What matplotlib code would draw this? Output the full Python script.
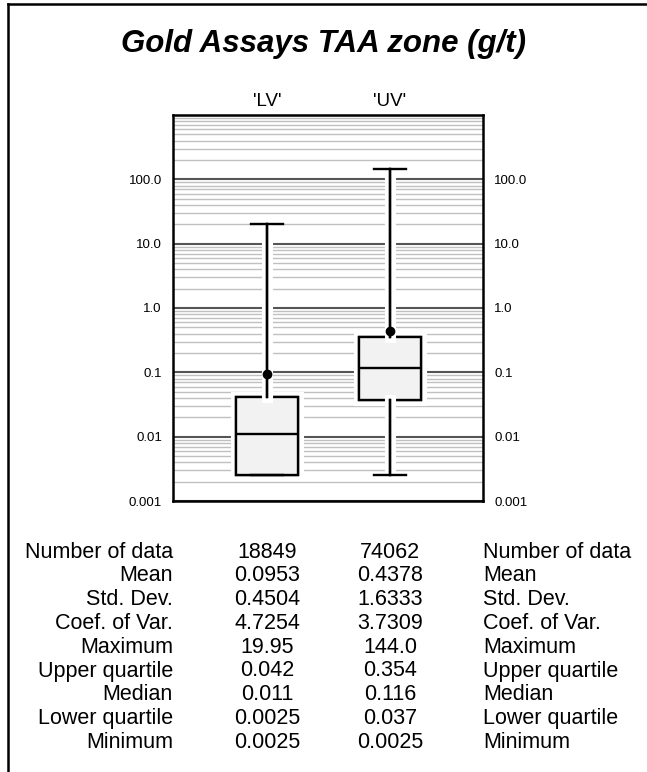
import matplotlib
matplotlib.use("Agg")
import matplotlib.pyplot as plt
import matplotlib.patheffects as pe
from matplotlib.lines import Line2D
from matplotlib.ticker import FixedLocator, NullFormatter
import matplotlib.transforms as mtransforms

plt.rcParams['font.family'] = ['Liberation Sans', 'DejaVu Sans']

# --- data ---
groups = ["'LV'", "'UV'"]
n_data = [18849, 74062]
mean = [0.0953, 0.4378]
std_dev = [0.4504, 1.6333]
coef_var = [4.7254, 3.7309]
maximum = [19.95, 144.0]
upper_q = [0.042, 0.354]
median = [0.011, 0.116]
lower_q = [0.0025, 0.037]
minimum = [0.0025, 0.0025]

row_labels = ["Number of data", "Mean", "Std. Dev.", "Coef. of Var.", "Maximum",
              "Upper quartile", "Median", "Lower quartile", "Minimum"]
y_ticks = [0.001, 0.01, 0.1, 1.0, 10.0, 100.0]
y_ticklabels = ["0.001", "0.01", "0.1", "1.0", "10.0", "100.0"]

W, H = 647, 772
fig = plt.figure(figsize=(W / 100, H / 100), dpi=100)
ax = fig.add_axes([173 / W, 1 - 501 / H, 310 / W, 386 / H])

stats = []
for i, g in enumerate(groups):
    stats.append(dict(label=g, med=median[i], q1=lower_q[i], q3=upper_q[i],
                      whislo=minimum[i], whishi=maximum[i], mean=mean[i], fliers=[]))

halo = [pe.withStroke(linewidth=8, foreground='white')]
bp = ax.bxp(stats, positions=[1, 2], widths=0.5, capwidths=0.26,
            showmeans=True, patch_artist=True, zorder=3,
            boxprops=dict(facecolor='#f2f2f2', edgecolor='black', linewidth=1.7),
            medianprops=dict(color='black', linewidth=1.7),
            whiskerprops=dict(color='black', linewidth=1.7),
            capprops=dict(color='black', linewidth=1.7),
            meanprops=dict(marker='o', markerfacecolor='black',
                           markeredgecolor='black', markersize=6))
for art in bp['boxes'] + bp['whiskers']:
    art.set_path_effects(halo + [pe.Normal()])

ax.set_yscale('log')
ax.set_ylim(0.001, 1000)
ax.set_xlim(0.236, 2.756)
ax.set_xticks([])

ax.set_yticks(y_ticks)
ax.set_yticklabels(y_ticklabels)
minors = [m * 10.0 ** e for e in range(-3, 3) for m in range(2, 10)]
ax.yaxis.set_minor_locator(FixedLocator(minors))
ax.yaxis.set_minor_formatter(NullFormatter())
ax.tick_params(axis='y', which='both', length=0, labelsize=9.5,
               left=False, right=False, labelleft=True, labelright=True)
ax.tick_params(axis='y', which='major', pad=8)
ax.set_axisbelow(True)
ax.grid(True, which='major', axis='y', color='#555555', linewidth=1.5)
ax.grid(True, which='minor', axis='y', color='#c0c0c0', linewidth=1.0)
ax.axhline(1000, color='#555555', linewidth=1.5, zorder=0.5)
for s in ax.spines.values():
    s.set_linewidth(1.8)

# title and column headers
fig.text(0.5, 1 - 44 / H, "Gold Assays TAA zone (g/t)", ha='center', va='center',
         fontsize=22.5, fontweight='bold', fontstyle='italic')
blend = mtransforms.blended_transform_factory(ax.transData, fig.transFigure)
for i, g in enumerate(groups):
    ax.text(i + 1, 1 - 101 / H, g, transform=blend, ha='center', va='center',
            fontsize=13.5)

# statistics table
columns = [n_data, mean, std_dev, coef_var, maximum, upper_q, median, lower_q, minimum]
side = mtransforms.blended_transform_factory(ax.transAxes, fig.transFigure)
y0 = 1 - 552 / H
dy = 23.8 / H
for r, lab in enumerate(row_labels):
    y = y0 - r * dy
    ax.text(0, y, lab, transform=side, ha='right', va='center', fontsize=15.5)
    ax.text(1, y, lab, transform=side, ha='left', va='center', fontsize=15.5)
    for i in range(len(groups)):
        ax.text(i + 1, y, str(columns[r][i]), transform=blend, ha='center',
                va='center', fontsize=15.5)

# page frame (top and left edges)
fig.add_artist(Line2D([8 / W, 8 / W], [0, 1 - 4 / H], color='black', linewidth=1.8,
                      transform=fig.transFigure))
fig.add_artist(Line2D([8 / W, 1], [1 - 4 / H, 1 - 4 / H], color='black', linewidth=1.8,
                      transform=fig.transFigure))

fig.savefig('out.png', dpi=100)
